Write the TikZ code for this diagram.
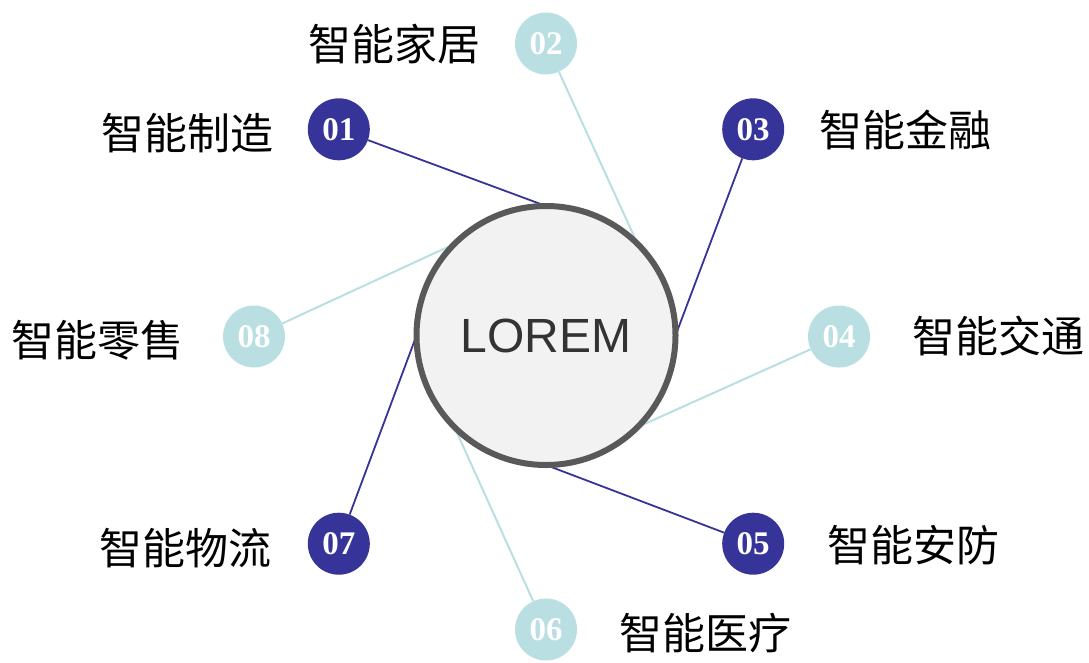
\documentclass[tikz,border=0pt]{standalone}
\usepackage{fontspec}
\setmainfont{Liberation Serif}
\newfontfamily\cjk{Noto Sans CJK SC}
\newfontfamily\lsans{Liberation Sans}
\usetikzlibrary{backgrounds}
\definecolor{dblue}{HTML}{363399}
\definecolor{lblue}{HTML}{B9DFE2}
\definecolor{ringgray}{HTML}{595959}
\definecolor{fillgray}{HTML}{F2F2F2}
\definecolor{txtgray}{HTML}{333333}
\tikzset{
  hub/.style={circle, draw=ringgray, line width=6pt, fill=fillgray, minimum size=259pt, inner sep=0pt, outer sep=0pt, font=\lsans\fontsize{48}{48}\selectfont, text=txtgray},
  numdark/.style={circle, fill=dblue, minimum size=62pt, inner sep=0pt, text=white, font=\bfseries\fontsize{33}{33}\selectfont},
  numlight/.style={circle, fill=lblue, minimum size=62pt, inner sep=0pt, text=white, font=\bfseries\fontsize{33}{33}\selectfont},
  lab/.style={font=\cjk\fontsize{43}{43}\selectfont, text=black, inner sep=0pt},
  ldark/.style={draw=dblue, line width=1.8pt},
  llight/.style={draw=lblue, line width=2pt}
}
\begin{document}
\begin{tikzpicture}[x=1pt,y=-1pt]
\useasboundingbox (0,0) rectangle (1089,662);
\node[hub] (c0) at (546,335.5) {LOREM};
\node[numdark]  (n1) at (338.8,129.3) {01};
\node[numlight] (n2) at (546,43.5) {02};
\node[numdark]  (n3) at (753.2,129.3) {03};
\node[numlight] (n4) at (839,336.5) {04};
\node[numdark]  (n5) at (753.2,543.7) {05};
\node[numlight] (n6) at (546,629.5) {06};
\node[numdark]  (n7) at (338.8,543.7) {07};
\node[numlight] (n8) at (254,336.5) {08};
\begin{scope}[on background layer]
\draw[ldark]  (n1) -- (c0.90);
\draw[llight] (n2) -- (c0.45);
\draw[ldark]  (n3) -- (c0.0);
\draw[llight] (n4) -- (c0.-45);
\draw[ldark]  (n5) -- (c0.-90);
\draw[llight] (n6) -- (c0.-135);
\draw[ldark]  (n7) -- (c0.180);
\draw[llight] (n8) -- (c0.135);
\end{scope}
\node[lab] (t1) at (187,133) {智能制造};
\node[lab] (t2) at (394,44) {智能家居};
\node[lab] (t3) at (905,130) {智能金融};
\node[lab] (t4) at (998,336) {智能交通};
\node[lab] (t5) at (913,545) {智能安防};
\node[lab] (t6) at (705,633) {智能医疗};
\node[lab] (t7) at (185,548) {智能物流};
\node[lab] (t8) at (97,340) {智能零售};
\end{tikzpicture}
\end{document}
